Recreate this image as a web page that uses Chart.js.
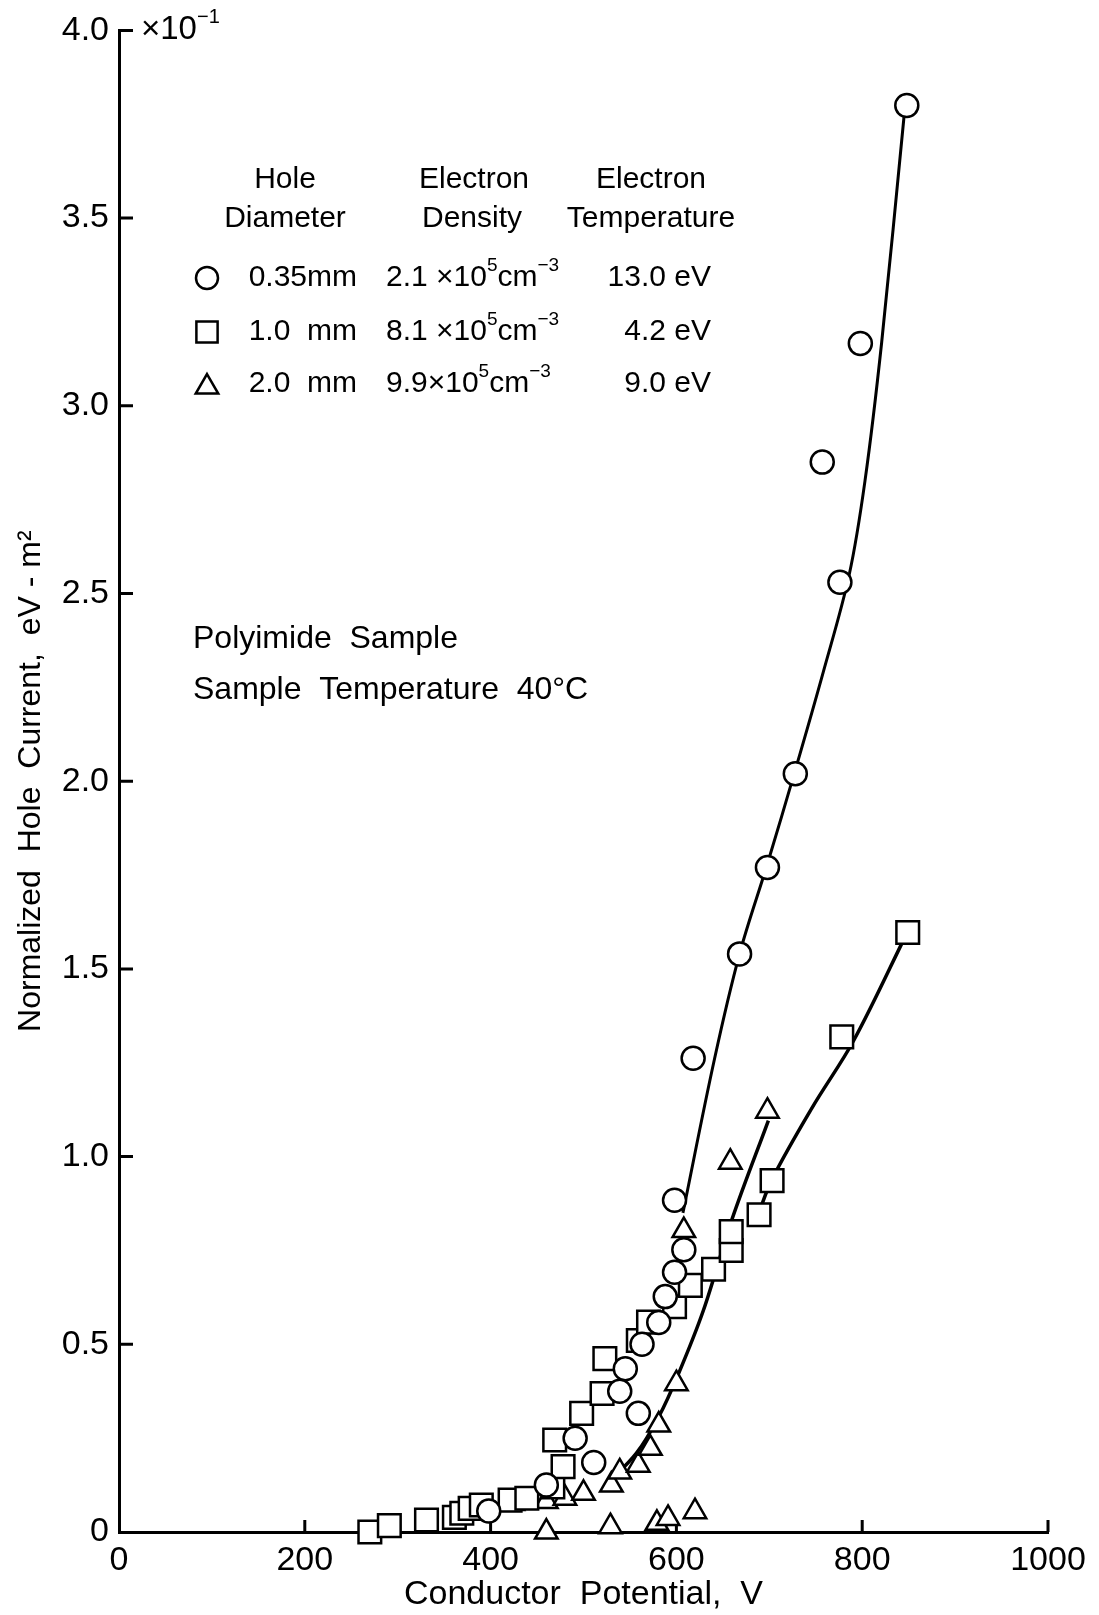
<!DOCTYPE html>
<html>
<head>
<meta charset="utf-8">
<script src="https://cdn.jsdelivr.net/npm/chart.js@4.4.1/dist/chart.umd.min.js"></script>
<style>
  html, body { margin: 0; padding: 0; background: #fff; }
  #wrap { width: 1099px; height: 1615px; }
</style>
</head>
<body>
<div id="wrap"><canvas id="holeChart" width="1099" height="1615"></canvas></div>
<script>
// conductor potential (V) and normalized hole current (x10^-1 eV-m^2)

// 0.35 mm hole
const circleV = [398, 460, 491, 511, 539, 545, 559, 563, 581, 588, 598, 608, 598, 618, 668, 698, 728, 776, 757, 798, 848];
const circleI = [0.056, 0.125, 0.25, 0.185, 0.375, 0.435, 0.316, 0.50, 0.558, 0.627, 0.692, 0.752, 0.884, 1.262, 1.54, 1.77, 2.02, 2.53, 2.85, 3.166, 3.80];

// 1.0 mm hole
const squareV = [270, 291, 331, 361, 369, 378, 390, 421, 439, 467, 478, 469, 498, 520, 523, 559, 570, 598, 615, 640, 659, 659, 689, 703, 778, 849];
const squareI = [0.0, 0.017, 0.032, 0.039, 0.05, 0.063, 0.072, 0.085, 0.09, 0.12, 0.174, 0.245, 0.316, 0.369, 0.462, 0.51, 0.559, 0.60, 0.657, 0.70, 0.75, 0.80, 0.845, 0.936, 1.319, 1.597];

// 2.0 mm hole
const triangleV = [424, 460, 460, 480, 500, 529, 530, 539, 559, 572, 579, 581, 591, 600, 608, 620, 658, 698];
const triangleI = [0.076, 0.081, 0.0, 0.09, 0.103, 0.014, 0.125, 0.16, 0.178, 0.223, 0.023, 0.285, 0.036, 0.395, 0.803, 0.054, 0.985, 1.121];

// hand-drawn fit curves
const circleFitV = [607, 641, 668, 698, 728, 758, 786, 803, 821, 845];
const circleFitI = [0.85, 1.26, 1.54, 1.78, 2.03, 2.29, 2.55, 2.80, 3.17, 3.77];
const squareFitV = [688, 703, 746, 791, 849];
const squareFitI = [0.845, 0.94, 1.13, 1.31, 1.60];
const triangleFitV = [526, 557, 581, 602, 629, 660, 699];
const triangleFitI = [0.13, 0.21, 0.307, 0.42, 0.59, 0.834, 1.096];

const xTicks = [0, 200, 400, 600, 800, 1000];
const yTicks = [0, 0.5, 1.0, 1.5, 2.0, 2.5, 3.0, 3.5, 4.0];

const FONT = "'Liberation Sans', Arial, sans-serif";

function pairs(xs, ys) {
    return xs.map(function (x, i) { return { x: x, y: ys[i] }; });
}

function fitLine(xs, ys, width) {
    return {
        type: "line",
        data: pairs(xs, ys),
        borderColor: "#000",
        borderWidth: width,
        pointRadius: 0,
        tension: 0.35,
        fill: false,
        clip: false,
        order: 2,
    };
}

function markers(xs, ys, style, radius) {
    return {
        type: "scatter",
        data: pairs(xs, ys),
        pointStyle: style,
        pointRadius: radius,
        pointBorderWidth: 2.5,
        pointBorderColor: "#000",
        pointBackgroundColor: "#fff",
        clip: false,
        order: 1,
    };
}

// text with raised parts, e.g. 10^5 cm^-3
function drawRuns(ctx, runs, x, y, size) {
    runs.forEach(function (run) {
        const sup = run[1];
        ctx.font = (sup ? Math.round(size * 0.62) : size) + "px " + FONT;
        ctx.fillText(run[0], x, sup ? y - size * 0.4 : y);
        x += ctx.measureText(run[0]).width;
    });
    return x;
}

// inward tick marks on both axes
const tickMarks = {
    id: "tickMarks",
    beforeDatasetsDraw(chart) {
        const ctx = chart.ctx;
        const xs = chart.scales.x, ys = chart.scales.y;
        const x0 = xs.getPixelForValue(0), y0 = ys.getPixelForValue(0);
        ctx.save();
        ctx.strokeStyle = "#000";
        ctx.lineWidth = 3;
        ctx.beginPath();
        xTicks.slice(1).forEach(function (v) {
            const px = xs.getPixelForValue(v);
            ctx.moveTo(px, y0);
            ctx.lineTo(px, y0 - 12);
        });
        yTicks.slice(1).forEach(function (v) {
            const py = ys.getPixelForValue(v);
            ctx.moveTo(x0, py);
            ctx.lineTo(x0 + 14, py);
        });
        ctx.stroke();
        ctx.restore();
    },
};

// key table and sample notes
const notes = {
    id: "notes",
    afterDraw(chart) {
        const ctx = chart.ctx;
        const ys = chart.scales.y, x0 = chart.scales.x.getPixelForValue(0);
        ctx.save();
        ctx.fillStyle = "#000";
        ctx.textBaseline = "middle";

        // exponent beside the top tick
        drawRuns(ctx, [["\u00d710", false], ["\u22121", true]], x0 + 22, ys.getPixelForValue(4.0), 33);

        ctx.font = "30px " + FONT;
        ctx.textAlign = "center";
        ctx.fillText("Hole", 285, 180);
        ctx.fillText("Diameter", 285, 219);
        ctx.fillText("Electron", 474, 180);
        ctx.fillText("Density", 472, 219);
        ctx.fillText("Electron", 651, 180);
        ctx.fillText("Temperature", 651, 219);

        const rows = [
            ["circle", "0.35mm", "2.1 \u00d710", "13.0 eV", 278],
            ["rect", "1.0  mm", "8.1 \u00d710", "4.2 eV", 332],
            ["triangle", "2.0  mm", "9.9\u00d710", "9.0 eV", 384],
        ];
        rows.forEach(function (r) {
            ctx.fillStyle = "#fff";
            ctx.strokeStyle = "#000";
            ctx.lineWidth = 2.5;
            Chart.helpers.drawPoint(ctx, {
                pointStyle: r[0],
                radius: r[0] === "rect" ? 15 : (r[0] === "circle" ? 11 : 13),
                borderWidth: 2.5,
            }, 207, r[4] + (r[0] === "triangle" ? 3 : 0));

            ctx.fillStyle = "#000";
            ctx.textAlign = "right";
            ctx.font = "30px " + FONT;
            ctx.fillText(r[1], 357, r[4]);
            ctx.fillText(r[3], 711, r[4]);

            ctx.textAlign = "left";
            drawRuns(ctx, [[r[2], false], ["5", true], ["cm", false], ["\u22123", true]], 386, r[4], 30);
        });

        ctx.textAlign = "left";
        ctx.font = "32px " + FONT;
        ctx.fillText("Polyimide  Sample", 193, 639);
        ctx.fillText("Sample  Temperature  40\u00b0C", 193, 690);
        ctx.restore();
    },
};

const ctx = document.getElementById("holeChart");

new Chart(ctx, {
    data: {
        datasets: [
            fitLine(circleFitV, circleFitI, 3),
            fitLine(squareFitV, squareFitI, 3.5),
            fitLine(triangleFitV, triangleFitI, 3.5),
            markers(circleV, circleI, "circle", 11.5),
            markers(squareV, squareI, "rect", 16),
            markers(triangleV, triangleI, "triangle", 13),
        ],
    },
    options: {
        responsive: false,
        animation: false,
        events: [],
        layout: { padding: { top: 28, right: 51, bottom: 0, left: 0 } },
        plugins: {
            legend: { display: false },
            tooltip: { enabled: false },
        },
        scales: {
            x: {
                type: "linear",
                min: 0,
                max: 1000,
                afterFit: function (s) { s.height = 83; },
                afterBuildTicks: function (s) { s.ticks = xTicks.map(function (v) { return { value: v }; }); },
                grid: { display: false, drawTicks: false },
                border: { display: true, color: "#000", width: 3 },
                ticks: {
                    color: "#000",
                    padding: 8,
                    maxRotation: 0,
                    font: { family: FONT, size: 34 },
                    callback: function (v) { return String(v); },
                },
                title: {
                    display: true,
                    text: "Conductor  Potential,  V",
                    color: "#000",
                    font: { family: FONT, size: 34 },
                    padding: 0,
                },
            },
            y: {
                type: "linear",
                min: 0,
                max: 4,
                afterFit: function (s) { s.width = 119; },
                afterBuildTicks: function (s) { s.ticks = yTicks.map(function (v) { return { value: v }; }); },
                grid: { display: false, drawTicks: false },
                border: { display: true, color: "#000", width: 3 },
                ticks: {
                    color: "#000",
                    padding: 10,
                    font: { family: FONT, size: 34 },
                    callback: function (v) { return v === 0 ? "0" : v.toFixed(1); },
                },
                title: {
                    display: true,
                    text: "Normalized  Hole  Current,  eV - m\u00b2",
                    color: "#000",
                    font: { family: FONT, size: 32 },
                    padding: { top: 12, bottom: 0 },
                },
            },
        },
    },
    plugins: [tickMarks, notes],
});
</script>
</body>
</html>
